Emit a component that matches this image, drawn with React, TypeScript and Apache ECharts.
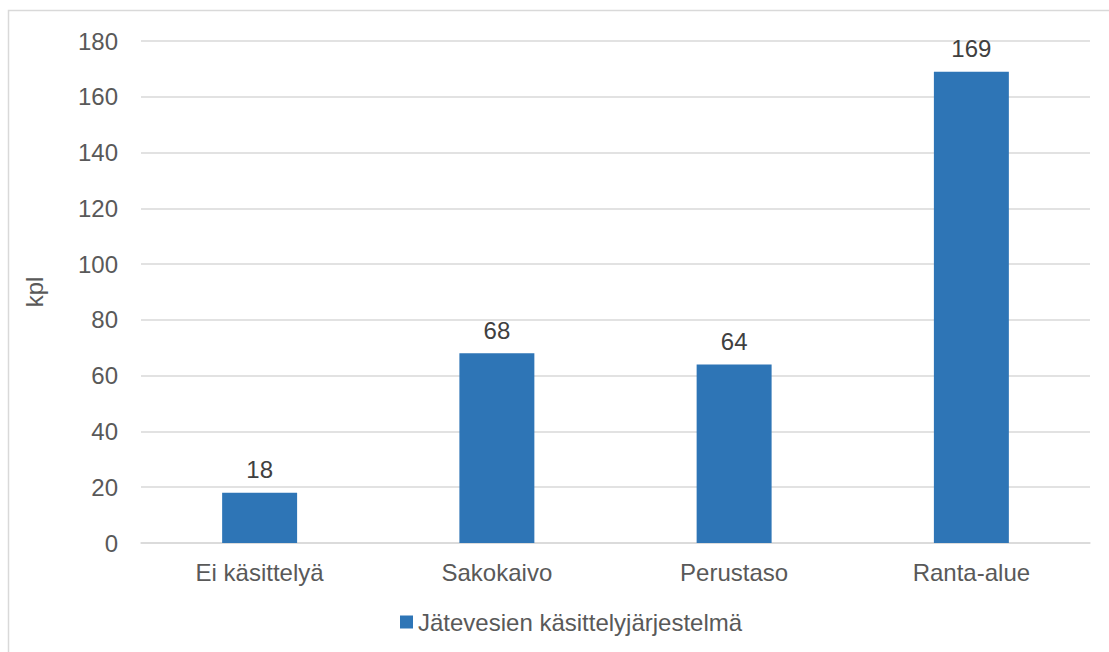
import React, { useEffect, useRef } from "react";
import * as echarts from "echarts";

const categories = ["Ei käsittelyä", "Sakokaivo", "Perustaso", "Ranta-alue"];
const values = [18, 68, 64, 169];
const seriesName = "Jätevesien käsittelyjärjestelmä";
const yAxisName = "kpl";

const TEXT = "#595959";
const FONT = "'Liberation Sans', Arial, sans-serif";
const FS = 24;

export default function App() {
  const ref = useRef<HTMLDivElement>(null);
  useEffect(() => {
    if (!ref.current) return;
    const chart = echarts.init(ref.current, undefined, { renderer: "svg" });
    chart.setOption({
      animation: false,
      backgroundColor: "#ffffff",
      textStyle: { fontFamily: FONT, color: TEXT },
      graphic: [
        {
          type: "rect",
          shape: { x: 8.5, y: 10.5, width: 1200, height: 700 },
          style: { fill: "none", stroke: "#D9D9D9", lineWidth: 1.5 },
          silent: true,
        },
      ],
      grid: { left: 141, right: 19, top: 41, bottom: 109 },
      legend: {
        data: [seriesName],
        left: 395,
        top: 605,
        icon: "rect",
        itemWidth: 13,
        itemHeight: 13,
        textStyle: { fontFamily: FONT, fontSize: FS, color: TEXT },
      },
      xAxis: {
        type: "category",
        data: categories,
        axisLine: { show: true, lineStyle: { color: "#D9D9D9", width: 1.5 } },
        axisTick: { show: false },
        axisLabel: { fontFamily: FONT, fontSize: FS, color: TEXT, margin: 17 },
      },
      yAxis: {
        type: "value",
        min: 0,
        max: 180,
        interval: 20,
        name: yAxisName,
        nameLocation: "middle",
        nameGap: 95,
        nameRotate: 90,
        nameTextStyle: { fontFamily: FONT, fontSize: FS, color: TEXT },
        axisLine: { show: false },
        axisTick: { show: false },
        splitLine: { lineStyle: { color: "#D9D9D9", width: 1.5 } },
        axisLabel: { fontFamily: FONT, fontSize: FS, color: TEXT, margin: 23 },
      },
      series: [
        {
          name: seriesName,
          type: "bar",
          data: values,
          barWidth: "31.6%",
          itemStyle: { color: "#2E75B6" },
          label: {
            show: true,
            position: "top",
            distance: 11,
            fontFamily: FONT,
            fontSize: FS,
            color: "#404040",
          },
        },
      ],
    });
    return () => chart.dispose();
  }, []);
  return (
    <div
      ref={ref}
      style={{ position: "absolute", left: 0, top: 0, width: 1109, height: 652 }}
    />
  );
}
